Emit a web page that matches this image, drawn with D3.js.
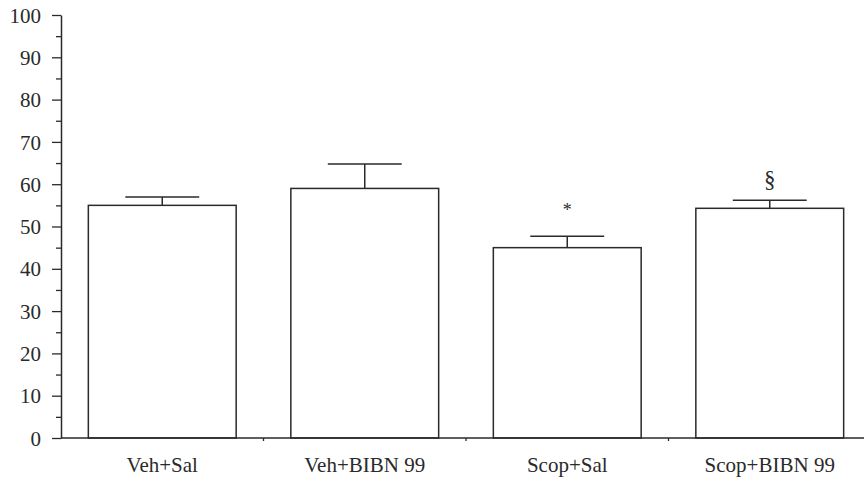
<!DOCTYPE html>
<html>
  <head>
    <script src="https://cdn.jsdelivr.net/npm/d3@7/dist/d3.min.js"></script>
    <style>
      body { margin: 0; background: #fff; }
      text { font-family: "Liberation Serif", "Times New Roman", serif; fill: #2a2a2a; }
    </style>
  </head>
  <body>
    <svg id="chart" width="864" height="477"></svg>

    <script>
      var groups = ["Veh+Sal", "Veh+BIBN 99", "Scop+Sal", "Scop+BIBN 99"];
      var means = [55, 59, 45, 54.3];
      var sems = [2, 5.8, 2.7, 1.9];
      var marks = ["", "", "*", "§"];
      var yTicks = [0, 10, 20, 30, 40, 50, 60, 70, 80, 90, 100];

      var svg = d3.select("#chart");
      var ink = "#2a2a2a";

      var x = d3.scaleBand().domain(groups).range([61, 871]).paddingInner(0.27).paddingOuter(0.135);
      var y = d3.scaleLinear().domain([0, 100]).range([438, 15]);

      // minor ticks at the 5s
      svg.append("g")
        .attr("transform", "translate(61,0)")
        .call(d3.axisLeft(y).tickValues(d3.range(5, 100, 10)).tickSize(5).tickFormat(""))
        .call(function(g) { g.select(".domain").remove(); })
        .selectAll("line").attr("stroke", ink).attr("stroke-width", 1.3);

      var yAxis = svg.append("g")
        .attr("transform", "translate(61,0)")
        .call(d3.axisLeft(y).tickValues(yTicks).tickSize(9).tickSizeOuter(0).tickPadding(11));
      yAxis.select(".domain").attr("stroke", ink).attr("stroke-width", 1.5);
      yAxis.selectAll("line").attr("stroke", ink).attr("stroke-width", 1.3);
      yAxis.selectAll("text").attr("font-size", 21).attr("dy", "0.34em").style("fill", ink);

      // x axis with small ticks at group boundaries
      var bounds = x.domain().slice(1).map(function(d) { return x(d) - x.step() * x.paddingInner() / 2; });
      svg.append("line")
        .attr("x1", 61).attr("x2", 864)
        .attr("y1", y(0)).attr("y2", y(0))
        .attr("stroke", ink).attr("stroke-width", 1.5);
      svg.selectAll(".btick").data(bounds).join("line")
        .attr("x1", function(d) { return d; }).attr("x2", function(d) { return d; })
        .attr("y1", y(0)).attr("y2", y(0) + 3)
        .attr("stroke", ink).attr("stroke-width", 1.3);

      svg.selectAll(".xlab").data(groups).join("text")
        .attr("x", function(d) { return x(d) + x.bandwidth() / 2; })
        .attr("y", 472)
        .attr("text-anchor", "middle")
        .attr("font-size", 21)
        .text(function(d) { return d; });

      // error bars (drawn before bars so stem starts at bar top)
      var capW = x.bandwidth() / 2;
      groups.forEach(function(g, i) {
        var cx = x(g) + x.bandwidth() / 2;
        svg.append("line")
          .attr("x1", cx).attr("x2", cx)
          .attr("y1", y(means[i])).attr("y2", y(means[i] + sems[i]))
          .attr("stroke", ink).attr("stroke-width", 1.5);
        svg.append("line")
          .attr("x1", cx - capW / 2).attr("x2", cx + capW / 2)
          .attr("y1", y(means[i] + sems[i])).attr("y2", y(means[i] + sems[i]))
          .attr("stroke", ink).attr("stroke-width", 1.5);
      });

      svg.selectAll("rect").data(groups).join("rect")
        .attr("x", function(d) { return x(d); })
        .attr("y", function(d, i) { return y(means[i]); })
        .attr("width", x.bandwidth())
        .attr("height", function(d, i) { return y(0) - y(means[i]); })
        .attr("fill", "none")
        .attr("stroke", ink)
        .attr("stroke-width", 1.5);

      svg.selectAll(".sig").data(groups).join("text")
        .attr("x", function(d) { return x(d) + x.bandwidth() / 2; })
        .attr("y", function(d, i) { return y(means[i] + sems[i]) - (marks[i] == "*" ? 20 : 13); })
        .attr("text-anchor", "middle")
        .attr("font-size", function(d, i) { return marks[i] == "*" ? 18 : 23; })
        .text(function(d, i) { return marks[i]; });
    </script>
  </body>
</html>
